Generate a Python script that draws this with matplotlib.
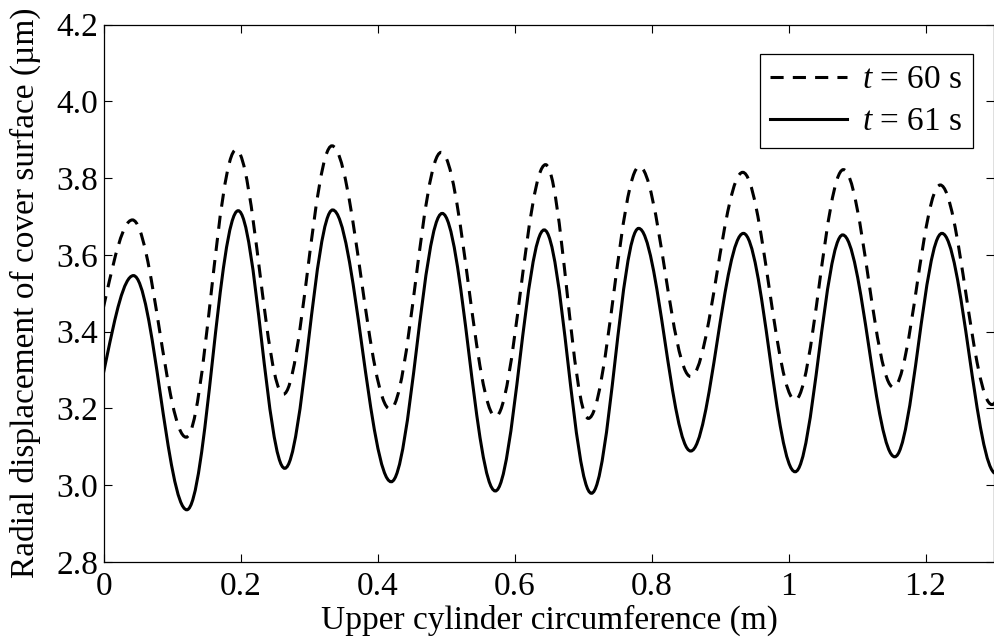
import matplotlib
matplotlib.use("Agg")
import matplotlib.pyplot as plt
from matplotlib.path import Path
from matplotlib.patches import PathPatch
from matplotlib.lines import Line2D
from matplotlib.ticker import FuncFormatter

plt.rcParams["font.family"] = ["Liberation Serif", "DejaVu Serif"]
plt.rcParams["mathtext.fontset"] = "custom"
plt.rcParams["mathtext.rm"] = "Liberation Serif"
plt.rcParams["mathtext.it"] = "Liberation Serif:italic"

# Peaks and troughs (m, um); first and last point sit just outside the axes
x60 = [-0.035, 0.0415, 0.120, 0.193, 0.262, 0.333, 0.418, 0.4925, 0.572, 0.645,
       0.7075, 0.782, 0.857, 0.933, 1.0095, 1.080, 1.153, 1.2215, 1.297, 1.37]
y60 = [3.30, 3.691, 3.125, 3.874, 3.237, 3.884, 3.198, 3.867, 3.179, 3.835,
       3.174, 3.830, 3.283, 3.815, 3.222, 3.822, 3.255, 3.782, 3.21, 3.78]

x61 = [-0.035, 0.043, 0.121, 0.196, 0.264, 0.334, 0.4195, 0.494, 0.5716, 0.643,
       0.712, 0.781, 0.857, 0.934, 1.0095, 1.079, 1.155, 1.224, 1.303, 1.38]
y61 = [3.12, 3.546, 2.936, 3.715, 3.044, 3.717, 3.009, 3.708, 2.985, 3.665,
       2.979, 3.669, 3.089, 3.656, 3.035, 3.652, 3.074, 3.656, 3.03, 3.66]

labels = ["$t$ = 60 s", "$t$ = 61 s"]
xticks = [0, 0.2, 0.4, 0.6, 0.8, 1.0, 1.2]
yticks = [2.8, 3.0, 3.2, 3.4, 3.6, 3.8, 4.0, 4.2]

LW = 2.2
DASH = (0, (4.3, 3.0))
FS = 24


def smooth_path(xs, ys, a=0.36):
    # cubic segments with flat tangents at each peak/trough
    verts = [(xs[0], ys[0])]
    codes = [Path.MOVETO]
    for i in range(len(xs) - 1):
        d = (xs[i + 1] - xs[i]) * a
        verts += [(xs[i] + d, ys[i]), (xs[i + 1] - d, ys[i + 1]), (xs[i + 1], ys[i + 1])]
        codes += [Path.CURVE4] * 3
    return Path(verts, codes)


fig = plt.figure(figsize=(9.94, 6.41), dpi=100)
ax = fig.add_axes([104 / 994, 1 - 562 / 641, 890 / 994, (562 - 24.5) / 641])

ax.add_patch(PathPatch(smooth_path(x60, y60), fill=False, lw=LW, ls=DASH,
                       edgecolor="black", capstyle="butt"))
ax.add_patch(PathPatch(smooth_path(x61, y61), fill=False, lw=LW, ls="-",
                       edgecolor="black", capstyle="butt"))

ax.set_xlim(0, 1.3)
ax.set_ylim(2.8, 4.2)
ax.set_xticks(xticks)
ax.set_yticks(yticks)
ax.xaxis.set_major_formatter(FuncFormatter(lambda v, p: f"{v:g}"))
ax.yaxis.set_major_formatter(FuncFormatter(lambda v, p: f"{v:.1f}"))
ax.tick_params(direction="in", length=6, width=0.8, top=True, right=True,
               labelsize=FS, pad=7)
ax.tick_params(axis="y", pad=4)
for s in ax.spines.values():
    s.set_linewidth(0.9)

ax.set_xlabel("Upper cylinder circumference (m)", fontsize=FS, labelpad=2)
ax.set_ylabel("Radial displacement of cover surface (µm)", fontsize=FS, labelpad=11)

handles = [Line2D([], [], color="black", lw=LW, ls=DASH),
           Line2D([], [], color="black", lw=LW, ls="-")]
leg = ax.legend(handles, labels, loc="upper right", bbox_to_anchor=(0.9764, 0.9451),
                fontsize=FS, frameon=True, fancybox=False, framealpha=1,
                edgecolor="black", handlelength=2.3, handletextpad=0.45,
                labelspacing=0.35, borderpad=0.32, borderaxespad=0)
leg.get_frame().set_linewidth(0.9)

fig.savefig("out.png", dpi=100)
